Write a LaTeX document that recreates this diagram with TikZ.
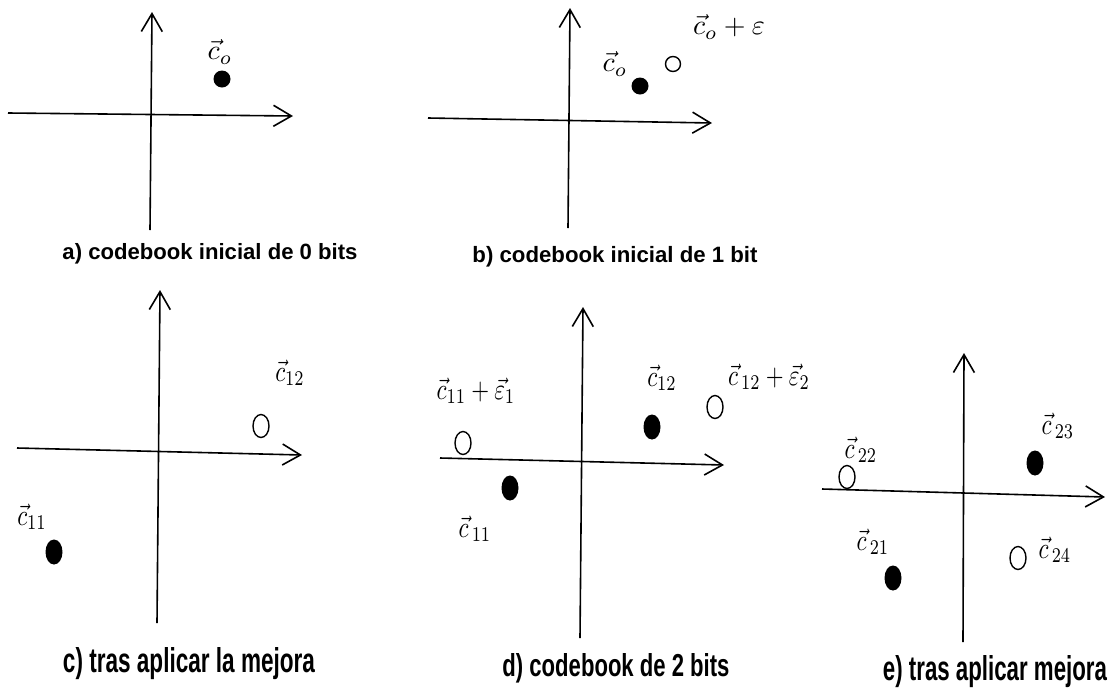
\documentclass[tikz,border=0pt]{standalone}
\usepackage{fontspec}
\setsansfont{Liberation Sans}
\usepackage{graphicx}
\usetikzlibrary{arrows.meta,shapes.geometric}
\newcommand{\toplab}[1]{\scalebox{2.8}{$#1$}}
\newcommand{\botlab}[1]{\scalebox{2.3}[3.0]{$#1$}}
\tikzset{
  axis/.style={line width=1.6pt, -{Straight Barb[length=18pt,width=21pt,line width=1.6pt]}},
  fdot/.style={circle, fill=black, minimum size=17pt, inner sep=0pt},
  odot/.style={circle, draw=black, line width=1.4pt, minimum size=15pt, inner sep=0pt},
  fell/.style={ellipse, fill=black, minimum width=17pt, minimum height=25pt, inner sep=0pt},
  oell/.style={ellipse, draw=black, line width=1.4pt, minimum width=16pt, minimum height=23pt, inner sep=0pt},
  lab/.style={inner sep=0pt},
  caption/.style={font=\sffamily\bfseries, inner sep=0pt, anchor=base}
}
\begin{document}
\begin{tikzpicture}[x=1pt,y=-1pt]
\useasboundingbox (0,0) rectangle (1109,689);
% ---------- panel a ----------
\coordinate (aL) at (8,113);
\coordinate (aR) at (293,116);
\coordinate (aB) at (150,230);
\coordinate (aT) at (152,12);
\draw[axis] (aL) -- (aR);
\draw[axis] (aB) -- (aT);
\node[fdot] (a0) at (222,79) {};
\node[lab] (la0) at (220,52) {\toplab{\vec{c}_o}};
\node[caption] (capa) at (210,259) {\resizebox{295pt}{!}{a) codebook inicial de 0 bits}};
% ---------- panel b ----------
\coordinate (bL) at (428,118);
\coordinate (bR) at (712,123);
\coordinate (bB) at (568,228);
\coordinate (bT) at (570,8);
\draw[axis] (bL) -- (bR);
\draw[axis] (bB) -- (bT);
\node[fdot] (b0) at (640,86) {};
\node[odot] (b1) at (673,64) {};
\node[lab] (lb0) at (615,64) {\toplab{\vec{c}_o}};
\node[lab] (lb1) at (729,27) {\toplab{\vec{c}_o+\varepsilon}};
\node[caption] (capb) at (615,262) {\resizebox{285pt}{!}{b) codebook inicial de 1 bit}};
% ---------- panel c ----------
\coordinate (cL) at (17,448);
\coordinate (cR) at (302,455);
\coordinate (cB) at (157,623);
\coordinate (cT) at (160,290);
\draw[axis] (cL) -- (cR);
\draw[axis] (cB) -- (cT);
\node[oell] (c12) at (261,426) {};
\node[fell] (c11) at (54,552) {};
\node[lab] (lc12) at (290,373) {\botlab{\vec{c}_{12}}};
\node[lab] (lc11) at (32,517) {\botlab{\vec{c}_{11}}};
\node[caption] (capc) at (189,672) {\resizebox{252pt}{25pt}{c) tras aplicar la mejora}};
% ---------- panel d ----------
\coordinate (dL) at (440,458);
\coordinate (dR) at (724,465);
\coordinate (dB) at (580,638);
\coordinate (dT) at (583,307);
\draw[axis] (dL) -- (dR);
\draw[axis] (dB) -- (dT);
\node[oell] (d1) at (463,443) {};
\node[fell] (d2) at (510,488) {};
\node[fell] (d3) at (652,427) {};
\node[oell] (d4) at (715,407) {};
\node[lab] (ld1) at (476,391) {\botlab{\vec{c}_{11}+\vec{\varepsilon}_1}};
\node[lab] (ld2) at (475,529) {\botlab{\vec{c}_{\,11}}};
\node[lab] (ld3) at (662,378) {\botlab{\vec{c}_{12}}};
\node[lab] (ld4) at (769,377) {\botlab{\vec{c}_{\,12}+\vec{\varepsilon}_2}};
\node[caption] (capd) at (616,676) {\resizebox{227pt}{23pt}{d) codebook de 2 bits}};
% ---------- panel e ----------
\coordinate (eL) at (822,489);
\coordinate (eR) at (1105,497);
\coordinate (eB) at (963,642);
\coordinate (eT) at (964,353);
\draw[axis] (eL) -- (eR);
\draw[axis] (eB) -- (eT);
\node[oell] (e22) at (847,477) {};
\node[fell] (e23) at (1035,463) {};
\node[oell] (e24) at (1018,558) {};
\node[fell] (e21) at (893,578) {};
\node[lab] (le22) at (861,450) {\botlab{\vec{c}_{\,22}}};
\node[lab] (le23) at (1058,426) {\botlab{\vec{c}_{\,23}}};
\node[lab] (le24) at (1055,550) {\botlab{\vec{c}_{\,24}}};
\node[lab] (le21) at (873,542) {\botlab{\vec{c}_{\,21}}};
\node[caption] (cape) at (995,680) {\resizebox{224pt}{25pt}{e) tras aplicar mejora}};
\end{tikzpicture}
\end{document}
